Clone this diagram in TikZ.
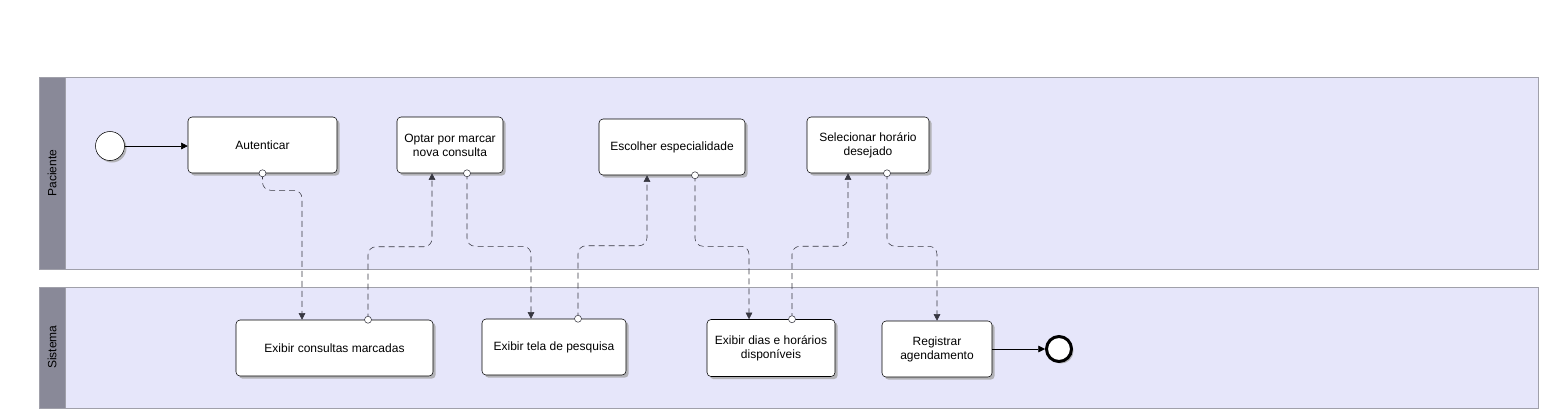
\documentclass[tikz,border=0pt]{standalone}
\usepackage{fontspec}
\setmainfont{Liberation Sans}
\usetikzlibrary{arrows.meta,calc,shadows}

\definecolor{lanefill}{RGB}{230,230,250}
\definecolor{laneline}{RGB}{160,160,170}
\definecolor{headfill}{RGB}{137,137,152}
\definecolor{flowgray}{RGB}{55,55,65}

\begin{document}
\begin{tikzpicture}[x = 0.75pt, y = -0.75pt,
    font = \fontsize{9}{10.5}\selectfont,
    task/.style = {draw, rounded corners = 3pt, fill = white, align = center,
        inner sep = 2pt, minimum height = 42pt,
        drop shadow = {shadow xshift = 2pt, shadow yshift = -2pt, fill = gray!70, opacity = 0.8}},
    event/.style = {circle, draw, fill = white, inner sep = 0pt,
        drop shadow = {shadow xshift = 1.5pt, shadow yshift = -1.5pt, fill = gray!70, opacity = 0.8}},
    lane/.style = {draw = laneline, fill = lanefill},
    head/.style = {draw = laneline, fill = headfill},
    seqflow/.style = {-{Triangle[length = 5pt, width = 5pt]}},
    msgflow/.style = {draw = flowgray, dash pattern = on 4.5pt off 3pt,
        rounded corners = 6pt, -{Triangle[length = 5pt, width = 5pt]}}
]

        \useasboundingbox (0, 0) rectangle (1549, 419);

        % The two lanes with their headers.
        \path[lane] (39, 77) rectangle (1538, 269);
        \path[head] (39, 77) rectangle (65, 269);
        \node[rotate = 90] (paciente) at (52, 173) {Paciente};

        \path[lane] (39, 287) rectangle (1538, 408);
        \path[head] (39, 287) rectangle (65, 408);
        \node[rotate = 90] (sistema) at (52, 347) {Sistema};

        % Tasks of the Paciente lane.
        \node[event, minimum size = 21.75pt] (start) at (110, 146) {};
        \node[task, minimum width = 111.75pt] (aut) at (262.5, 145) {Autenticar};
        \node[task, minimum width = 79.5pt] (optar) at (450, 145) {Optar por marcar\\nova consulta};
        \node[task, minimum width = 109.5pt] (esc) at (672, 147) {Escolher especialidade};
        \node[task, minimum width = 91.5pt] (sel) at (868, 145) {Selecionar hor\'ario\\desejado};

        % Tasks of the Sistema lane.
        \node[task, minimum width = 147.75pt] (cons) at (334.5, 348) {Exibir consultas marcadas};
        \node[task, minimum width = 108pt] (tela) at (554, 347) {Exibir tela de pesquisa};
        \node[task, minimum width = 96pt, minimum height = 42.75pt] (dias) at (771, 348) {Exibir dias e hor\'arios\\dispon\'iveis};
        \node[task, minimum width = 82.5pt] (reg) at (937, 349) {Registrar\\agendamento};
        \node[event, minimum size = 18.75pt, line width = 2.25pt] (end) at (1059, 349) {};

        % Points where the message flows meet the tasks.
        \coordinate (cons in) at ($(cons.north) + (-32.5, 0)$);
        \coordinate (cons out) at ($(cons.north) + (33.5, 0)$);
        \coordinate (optar in) at ($(optar.south) + (-18, 0)$);
        \coordinate (optar out) at ($(optar.south) + (17, 0)$);
        \coordinate (tela in) at ($(tela.north) + (-23, 0)$);
        \coordinate (tela out) at ($(tela.north) + (24, 0)$);
        \coordinate (esc in) at ($(esc.south) + (-25, 0)$);
        \coordinate (esc out) at ($(esc.south) + (23, 0)$);
        \coordinate (dias in) at ($(dias.north) + (-22, 0)$);
        \coordinate (dias out) at ($(dias.north) + (21, 0)$);
        \coordinate (sel in) at ($(sel.south) + (-20, 0)$);
        \coordinate (sel out) at ($(sel.south) + (19, 0)$);

        % Sequence flows.
        \draw[seqflow] (start) -- (start -| aut.west);
        \draw[seqflow] (reg) -- (reg -| end.west);

        % Message flows between the lanes.
        \draw[msgflow] (aut.south) -- ++(0, 17) -| (cons in);
        \draw[msgflow] (cons out) -- ++(0, -73) -| (optar in);
        \draw[msgflow] (optar out) -- ++(0, 73) -| (tela in);
        \draw[msgflow] (tela out) -- ++(0, -73) -| (esc in);
        \draw[msgflow] (esc out) -- ++(0, 71) -| (dias in);
        \draw[msgflow] (dias out) -- ++(0, -73) -| (sel in);
        \draw[msgflow] (sel out) -- ++(0, 73) -| (reg.north);

        % Small open circles at the start of each message flow.
        \foreach \p in {aut.south, cons out, optar out, tela out, esc out, dias out, sel out}
            \filldraw[draw = flowgray, fill = white] (\p) circle [radius = 3.5];
    \end{tikzpicture}
\end{document}
